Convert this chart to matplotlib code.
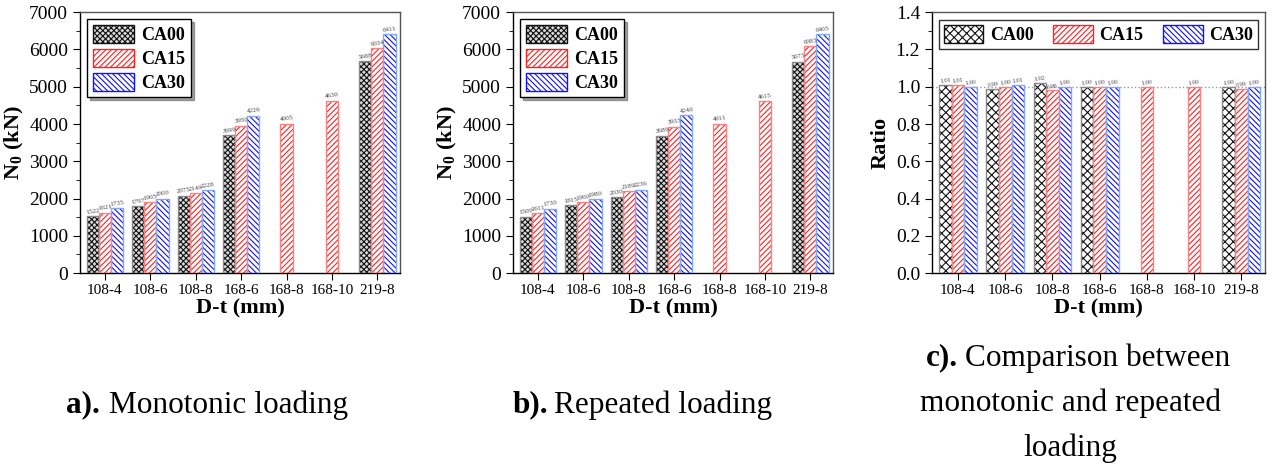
import numpy as np
import matplotlib
matplotlib.use('Agg')
import matplotlib.pyplot as plt
from matplotlib.patches import Patch

plt.rcParams['font.family'] = ['Liberation Serif', 'DejaVu Serif']
plt.rcParams['mathtext.fontset'] = 'custom'
plt.rcParams['mathtext.rm'] = 'Liberation Serif'
plt.rcParams['mathtext.bf'] = 'Liberation Serif:bold'
plt.rcParams['hatch.linewidth'] = 0.8

# 数据
specimens = ['108-4', '108-6', '108-8', '168-6', '168-8', '168-10', '219-8']
series = ['CA00', 'CA15', 'CA30']

mono_ca00 = [1522, 1797, 2075, 3699, np.nan, np.nan, 5688]
mono_ca15 = [1621, 1905, 2149, 3950, 4005, 4630, 6034]
mono_ca30 = [1735, 2000, 2228, 4226, np.nan, np.nan, 6411]

rep_ca00 = [1509, 1815, 2030, 3689, np.nan, np.nan, 5673]
rep_ca15 = [1611, 1900, 2189, 3933, 4011, 4615, 6083]
rep_ca30 = [1730, 1980, 2236, 4240, np.nan, np.nan, 6405]

ratio_ca00 = [1.01, 0.99, 1.02, 1.00, np.nan, np.nan, 1.00]
ratio_ca15 = [1.01, 1.00, 0.98, 1.00, 1.00, 1.00, 0.99]
ratio_ca30 = [1.00, 1.01, 1.00, 1.00, np.nan, np.nan, 1.00]

hatch_colors = ['#111111', '#ff2020', '#1010ff']
edge_colors = ['#888888', '#ff8080', '#80a8ff']
w = 0.267


def draw_bars(ax, groups, fmt, hatches, lab_size, lab_off, face0='white'):
    x = np.arange(len(specimens))
    for i, vals in enumerate(groups):
        vals = np.array(vals, dtype=float)
        for j, v in enumerate(vals):
            if np.isnan(v):
                continue
            # 只有CA15的组居中
            single = np.isnan(groups[0][j]) and np.isnan(groups[2][j])
            pos = x[j] if single else x[j] + (i - 1) * w
            fc = face0 if i == 0 else 'white'
            ax.bar(pos, v, w, facecolor=fc, edgecolor=hatch_colors[i],
                   hatch=hatches[i], linewidth=0, zorder=2)
            ax.bar(pos, v, w, fill=False, edgecolor=edge_colors[i],
                   linewidth=1.0, zorder=3)
            ax.text(pos, v + lab_off, fmt.format(v), ha='center', va='bottom',
                    fontsize=lab_size, rotation=8, color='#444444', zorder=4)
    ax.set_xticks(x)
    ax.set_xticklabels(specimens, fontsize=11)
    ax.set_xlim(-0.55, 6.5)
    ax.set_xlabel('D-t (mm)', fontsize=16, fontweight='bold', labelpad=1)
    ax.tick_params(axis='y', which='major', direction='out', length=5, labelsize=14)
    ax.tick_params(axis='y', which='minor', direction='out', length=3)
    ax.tick_params(axis='x', direction='out', length=5, pad=3)
    for s in ax.spines.values():
        s.set_linewidth(1.0)
    ax.spines['right'].set_color('#555555')
    ax.spines['top'].set_color('#555555')


fig = plt.figure(figsize=(12.72, 4.70), dpi=100)

hatch_n = ['xxxxxx', '//////', '\\\\\\\\\\\\']
axes_pos = [[0.0629, 0.419, 0.2516, 0.555], [0.4033, 0.419, 0.2516, 0.555]]
for pos, data in zip(axes_pos, [(mono_ca00, mono_ca15, mono_ca30),
                                 (rep_ca00, rep_ca15, rep_ca30)]):
    ax = fig.add_axes(pos)
    draw_bars(ax, data, '{:.0f}', hatch_n, 5, 40, face0='#d8d8d8')
    ax.set_ylim(0, 7000)
    ax.set_yticks(np.arange(0, 7001, 1000))
    ax.set_yticks(np.arange(500, 7000, 1000), minor=True)
    ax.set_ylabel(r'N$_\mathbf{0}$ (kN)', fontsize=16, fontweight='bold', labelpad=2)
    handles = [Patch(facecolor='#d8d8d8' if i == 0 else 'white',
                     edgecolor=hatch_colors[i], hatch=hatch_n[i])
               for i in range(3)]
    leg = ax.legend(handles, series, loc='upper left', prop={'weight': 'bold', 'size': 13},
                    fancybox=False, shadow=True, framealpha=1, edgecolor='black',
                    handlelength=2.3, handleheight=1.2, labelspacing=0.25,
                    handletextpad=0.4, borderpad=0.3, borderaxespad=0.4)
    leg.get_frame().set_linewidth(1.0)

hatch_c = ['xxxx', '//////', '\\\\\\\\\\\\']
axc = fig.add_axes([0.7327, 0.419, 0.2618, 0.555])
draw_bars(axc, (ratio_ca00, ratio_ca15, ratio_ca30), '{:.2f}', hatch_c, 4.5, 0.005)
axc.axhline(1.0, color='#999999', linestyle=':', linewidth=1.0, zorder=1)
axc.set_ylim(0, 1.4)
axc.set_yticks(np.arange(0, 1.41, 0.2))
axc.set_yticks(np.arange(0.1, 1.4, 0.2), minor=True)
axc.set_yticklabels(['{:.1f}'.format(t) for t in np.arange(0, 1.41, 0.2)])
axc.set_ylabel('Ratio', fontsize=16, fontweight='bold', labelpad=4)
handles = [Patch(facecolor='white', edgecolor=hatch_colors[i], hatch=hatch_c[i])
           for i in range(3)]
leg = axc.legend(handles, series, loc='upper center', ncol=3,
                 prop={'weight': 'bold', 'size': 13}, fancybox=False,
                 framealpha=1, edgecolor='#333333', handlelength=2.2,
                 handleheight=1.2, handletextpad=0.35, columnspacing=1.1,
                 borderpad=0.25, borderaxespad=0.45)
leg.get_frame().set_linewidth(1.0)

# 图注
fs = 22.5
fig.text(0.0786, 0.138, 'a).', fontsize=fs, fontweight='bold', ha='right', va='center')
fig.text(0.0855, 0.138, 'Monotonic loading', fontsize=fs, ha='left', va='center')
fig.text(0.4308, 0.138, 'b).', fontsize=fs, fontweight='bold', ha='right', va='center')
fig.text(0.4355, 0.138, 'Repeated loading', fontsize=fs, ha='left', va='center')
fig.text(0.7531, 0.238, 'c).', fontsize=fs, fontweight='bold', ha='right', va='center')
fig.text(0.7585, 0.238, 'Comparison between', fontsize=fs, ha='left', va='center')
fig.text(0.8412, 0.1426, 'monotonic and repeated', fontsize=fs, ha='center', va='center')
fig.text(0.8412, 0.0468, 'loading', fontsize=fs, ha='center', va='center')

fig.savefig('out.png', dpi=100)
